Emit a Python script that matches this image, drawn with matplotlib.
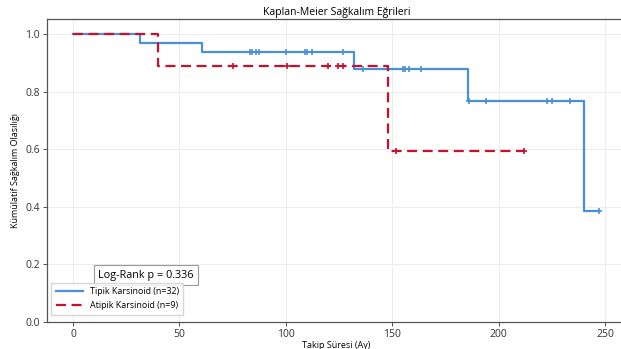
import numpy as np
import matplotlib.pyplot as plt

plt.rcParams['font.family'] = ['Open Sans', 'DejaVu Sans']

# Tipik Karsinoid (n=32): step times and survival
tipik_t = [0, 31.5, 60.5, 132.2, 185.5, 240.3, 247.2]
tipik_s = [1.0, 0.969, 0.9375, 0.878, 0.768, 0.384, 0.384]
tipik_cens = [83, 84, 86, 87.5, 100, 109, 110, 112.5, 126.7, 136.1,
              155.2, 156, 158, 163.4, 186.1, 194, 222.6, 225.2, 233.6, 247.2]

# Atipik Karsinoid (n=9)
atipik_t = [0, 39.8, 147.9, 212]
atipik_s = [1.0, 0.889, 0.593, 0.593]
atipik_cens = [75.3, 100.7, 120, 124.7, 126.7, 151.6, 212]

p_value = 0.336

blue = '#4a90d9'
red = '#c8102e'


def step_value(t, s, x):
    idx = np.searchsorted(t, x, side='right') - 1
    return np.array(s)[idx]


fig = plt.figure(figsize=(6.21, 3.49), dpi=100)
ax = fig.add_axes([47 / 621, 1 - 322 / 349, 579 / 621, 303 / 349])

ax.step(tipik_t, tipik_s, where='post', color=blue, lw=1.6,
        label='Tipik Karsinoid (n=32)')
ax.plot(tipik_cens, step_value(tipik_t, tipik_s, tipik_cens), ls='none',
        marker='+', ms=5, mew=1.2, color=blue)

ax.step(atipik_t, atipik_s, where='post', color=red, lw=1.6, ls=(0, (4.5, 2.5)),
        label='Atipik Karsinoid (n=9)')
ax.plot(atipik_cens, step_value(atipik_t, atipik_s, atipik_cens), ls='none',
        marker='+', ms=5, mew=1.2, color=red)

ax.set_xlim(-12.2, 259.8)
ax.set_ylim(0, 1.052)
ax.set_xticks([0, 50, 100, 150, 200, 250])
ax.set_yticks([0.0, 0.2, 0.4, 0.6, 0.8, 1.0])
ax.grid(True, color='#ececec', lw=0.7)
ax.tick_params(labelsize=7.5, length=3, width=0.6, pad=2, colors='#333333')
for sp in ax.spines.values():
    sp.set_color('#555555')
    sp.set_linewidth(0.9)

ax.set_title('Kaplan-Meier Sağkalım Eğrileri', fontsize=7.5, pad=3)
ax.set_xlabel('Takip Süresi (Ay)', fontsize=6.5, labelpad=1)
ax.set_ylabel('Kümülatif Sağkalım Olasılığı', fontsize=6.5, labelpad=4)

ax.text(0.171, 0.155, f'Log-Rank p = {p_value:.3f}', transform=ax.transAxes,
        ha='center', va='center', fontsize=7.8,
        bbox=dict(boxstyle='square,pad=0.4', fc='white', ec='#999999', lw=0.8))

leg = ax.legend(loc='lower left', fontsize=6.4, frameon=True, handlelength=3,
                borderpad=0.5, labelspacing=0.55, fancybox=False,
                bbox_to_anchor=(0.0, 0.01))
leg.get_frame().set_edgecolor('#cccccc')

fig.savefig('out.png', dpi=100)
